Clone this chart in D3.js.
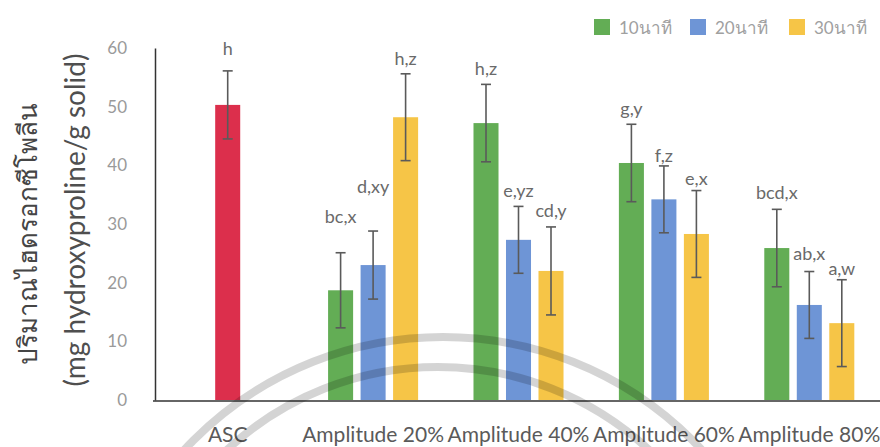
<!DOCTYPE html>
<html>
<head>
<meta charset="utf-8">
<script src="https://cdn.jsdelivr.net/npm/d3@7"></script>
<style>
  html, body { margin: 0; padding: 0; background: #fff; }
  svg { display: block; font-family: Lato, "Open Sans", sans-serif; }
</style>
</head>
<body>
<svg id="chart" width="880" height="447"></svg>
<script>
// Hydroxyproline content by treatment (mg hydroxyproline / g solid)
const categories = ["ASC", "Amplitude 20%", "Amplitude 40%", "Amplitude 60%", "Amplitude 80%"];
const seriesNames = ["10นาที", "20นาที", "30นาที"];

const ascValue = 50.3;
const ascError = 5.8;
const ascLetter = "h";

const min10 = [18.7, 47.2, 40.4, 25.9];
const min20 = [23.0, 27.3, 34.2, 16.2];
const min30 = [48.2, 22.0, 28.3, 13.1];

const err10 = [6.4, 6.6, 6.6, 6.6];
const err20 = [5.8, 5.7, 5.7, 5.7];
const err30 = [7.4, 7.5, 7.4, 7.4];

const letters10 = ["bc,x", "h,z", "g,y", "bcd,x"];
const letters20 = ["d,xy", "e,yz", "f,z", "ab,x"];
const letters30 = ["h,z", "cd,y", "e,x", "a,w"];

const yTicks = [0, 10, 20, 30, 40, 50, 60];

// ---- layout & style ----
const colors = { asc: "#dc2f4c", s: ["#63ad55", "#6e95d6", "#f6c547"] };
const letterLift = { asc: 16, s: [[30, 9, 9, 10], [38, 9, 4, 12], [9, 10, 6, 5]] };

const svg = d3.select("#chart");
const plotLeft = 155, plotRight = 882, plotTop = 48, plotBottom = 400;

const x = d3.scaleBand().domain(categories).range([plotLeft, plotRight]);
const x1 = d3.scaleBand().domain(seriesNames)
  .range([-48.75, 48.75]).paddingInner(0.23).paddingOuter(0.115);
const barW = x1.bandwidth();
const y = d3.scaleLinear().domain([0, 60]).range([plotBottom, plotTop]);

// one row per bar
const rows = [{ cat: categories[0], v: ascValue, e: ascError, t: ascLetter, c: colors.asc, lift: letterLift.asc }];
const seriesVals = [min10, min20, min30], seriesErr = [err10, err20, err30], seriesLet = [letters10, letters20, letters30];
seriesNames.forEach((s, si) => {
  categories.slice(1).forEach((cat, ci) => {
    rows.push({ cat, s, v: seriesVals[si][ci], e: seriesErr[si][ci],
      t: seriesLet[si][ci], c: colors.s[si], lift: letterLift.s[si][ci] });
  });
});
rows.forEach(r => { r.cx = x(r.cat) + x.bandwidth() / 2 + (r.s ? x1(r.s) + barW / 2 : 0); });

// bars
svg.append("g").selectAll("rect").data(rows).join("rect")
  .attr("x", d => d.cx - barW / 2)
  .attr("y", d => y(d.v))
  .attr("width", barW)
  .attr("height", d => y(0) - y(d.v))
  .attr("fill", d => d.c);

// error bars
const eg = svg.append("g").attr("stroke", "#5a5a5a").attr("stroke-width", 1.6);
eg.selectAll("line.v").data(rows).join("line").attr("class", "v")
  .attr("x1", d => d.cx).attr("x2", d => d.cx)
  .attr("y1", d => y(d.v + d.e)).attr("y2", d => y(d.v - d.e));
eg.selectAll("line.t").data(rows).join("line").attr("class", "t")
  .attr("x1", d => d.cx - 5).attr("x2", d => d.cx + 5)
  .attr("y1", d => y(d.v + d.e)).attr("y2", d => y(d.v + d.e));
eg.selectAll("line.b").data(rows).join("line").attr("class", "b")
  .attr("x1", d => d.cx - 5).attr("x2", d => d.cx + 5)
  .attr("y1", d => y(d.v - d.e)).attr("y2", d => y(d.v - d.e));

// significance letters
svg.append("g").selectAll("text").data(rows).join("text")
  .attr("x", d => d.cx)
  .attr("y", d => y(d.v + d.e) - d.lift)
  .attr("text-anchor", "middle")
  .attr("font-size", 18)
  .attr("fill", "#6a6a6a")
  .text(d => d.t);

// y axis
const yAxis = svg.append("g").attr("transform", `translate(${plotLeft},0)`)
  .call(d3.axisLeft(y).tickValues(yTicks).tickSize(0).tickPadding(28));
yAxis.select(".domain").attr("stroke", "#333").attr("stroke-width", 1.5);
yAxis.selectAll("text").attr("font-size", 17).attr("fill", "#9a9a9a").attr("font-family", "Lato, sans-serif");

// x axis
const xAxis = svg.append("g").attr("transform", `translate(0,${plotBottom + 1})`)
  .call(d3.axisBottom(x).tickSize(0).tickPadding(0));
xAxis.select(".domain").attr("stroke", "#333").attr("stroke-width", 1.5)
  .attr("d", `M${plotLeft - 2},0H${plotRight}`);
xAxis.selectAll("text").attr("font-size", 21).attr("fill", "#5a5a5a")
  .attr("font-family", "Lato, sans-serif")
  .attr("dy", null).attr("y", 41);

// y title (two lines)
const titleG = svg.append("g");
titleG.append("text")
  .attr("transform", `translate(37,234) rotate(-90)`)
  .attr("text-anchor", "middle").attr("font-size", 26).attr("fill", "#454545")
  .text("ปริมาณไฮดรอกซีโพลีน");
titleG.append("text")
  .attr("transform", `translate(85,220) rotate(-90)`)
  .attr("text-anchor", "middle").attr("font-size", 28).attr("fill", "#4f4f4f")
  .text("(mg hydroxyproline/g solid)");

// legend
const legendX = [594, 690, 789];
const lg = svg.append("g").selectAll("g").data(seriesNames).join("g")
  .attr("transform", (d, i) => `translate(${legendX[i]},19)`);
lg.append("rect").attr("width", 16).attr("height", 16).attr("fill", (d, i) => colors.s[i]);
lg.append("text").attr("x", 25).attr("y", 15).attr("font-size", 17).attr("fill", "#a0a0a0").text(d => d);

// faint double ring across the lower part of the page
const rings = [{ cx: 443, cy: 690, r: 353 }, { cx: 438, cy: 677, r: 310 }];
svg.append("g")
  .selectAll("circle").data(rings).join("circle")
  .attr("cx", d => d.cx).attr("cy", d => d.cy).attr("r", d => d.r)
  .attr("fill", "none").attr("stroke", "#000").attr("stroke-opacity", 0.17)
  .attr("stroke-width", 8);
</script>
</body>
</html>
